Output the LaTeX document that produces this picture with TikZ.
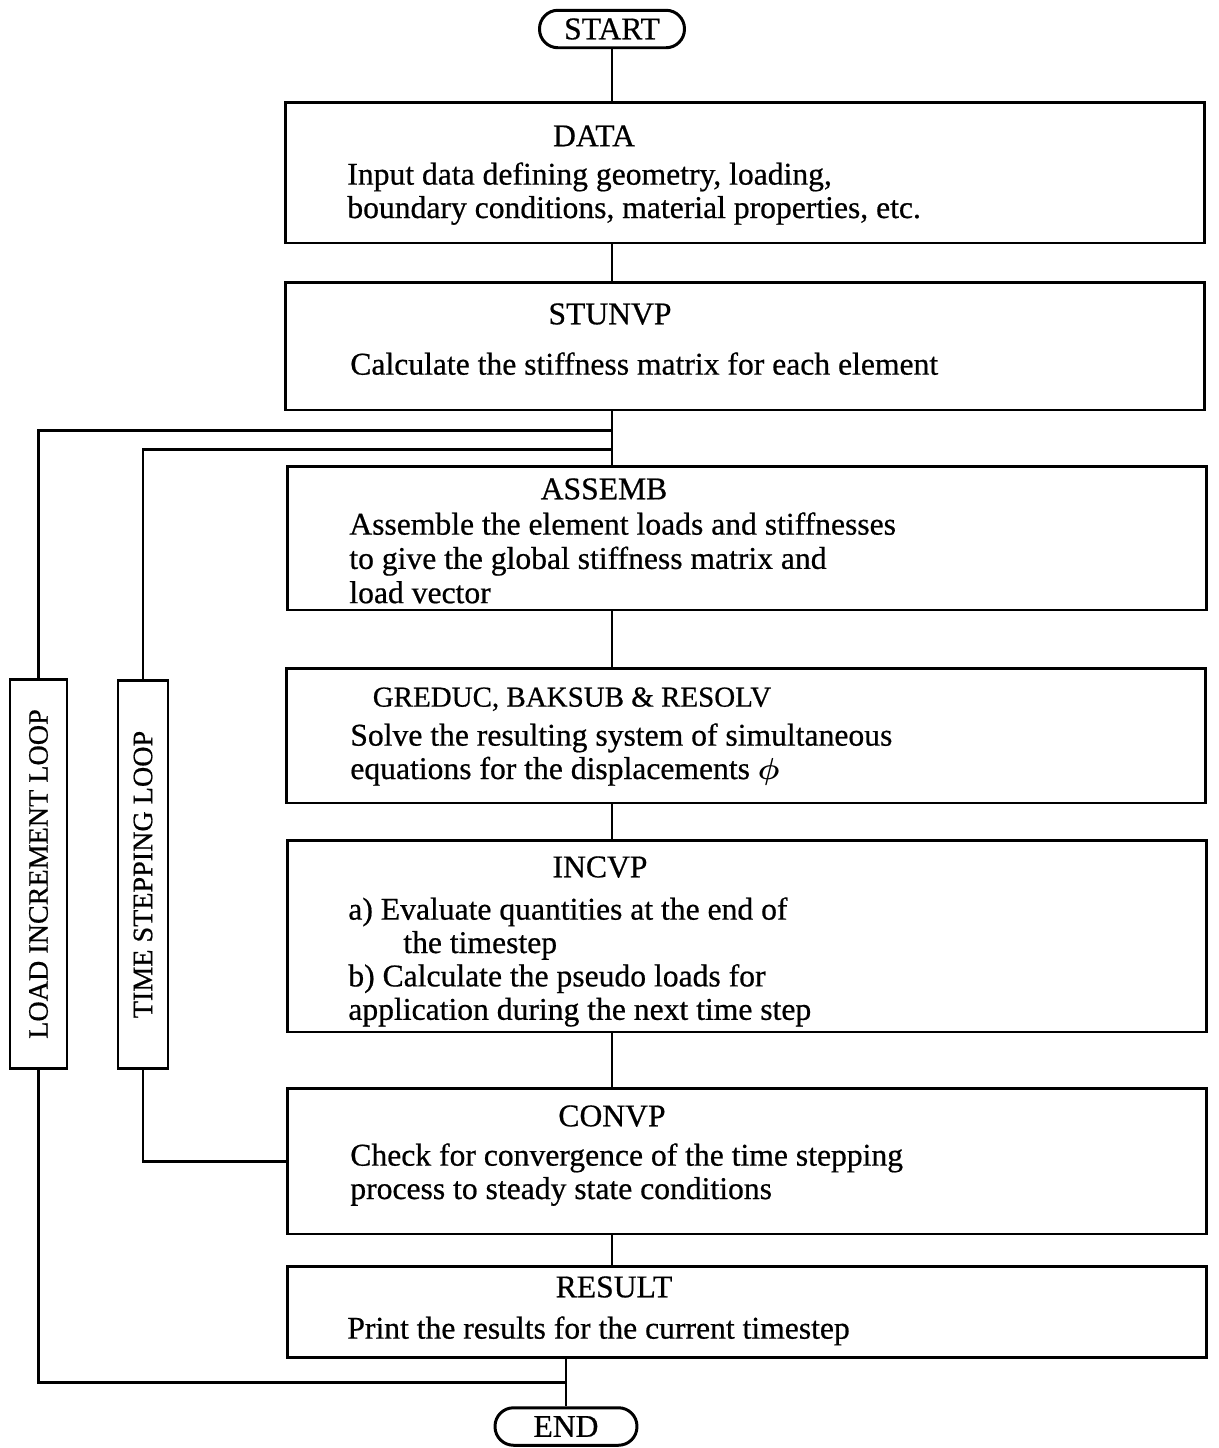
\documentclass[tikz,border=0pt]{standalone}
\usepackage{fontspec}
\setmainfont{Liberation Serif}[FakeBold=0.6]
\usepackage{graphicx}
\usepackage{amsmath, amssymb}
\newcommand{\flowfont}{\fontsize{18}{19}\selectfont}
\newcommand{\loopfont}{\fontsize{16}{18}\selectfont}

\begin{document}
\begin{tikzpicture}[x=0.02cm, y=-0.02cm]
        % ================= 样式定义 =================
        % 方框: 黑边, 粗线, 宽度一致
        \tikzset{
            box/.style={draw=black, line width=1.7pt, inner sep=0pt, minimum width=18.4cm},
            term/.style={draw=black, line width=1.7pt, inner sep=0pt, rounded corners=0.37cm, minimum height=0.75cm, font=\flowfont},
            loopbox/.style={draw=black, line width=1.7pt, inner sep=0pt, minimum height=7.78cm, font=\loopfont},
            title/.style={anchor=north, inner sep=0pt, font=\flowfont},
            body/.style={anchor=north west, inner sep=0pt, align=left, font=\flowfont},
            link/.style={line width=1.7pt}
        }
        \useasboundingbox (0,0) rectangle (1218,1448);

        % ================= 绘图部分 =================

        % START / END
        \node[term, minimum width=2.9cm] (start) at (612,29) {START};
        \node[term, minimum width=2.84cm] (end) at (566,1426.5) {END};

        % DATA
        \node[box, minimum height=2.82cm] (data) at (745,172.5) {};
        \node[title] (datatitle) at (594,125) {DATA};
        \node[body] (datatext) at (347,162) {Input data defining geometry, loading,\\boundary conditions, material properties, etc.};

        % STUNVP
        \node[box, minimum height=2.56cm] (stunvp) at (745,346) {};
        \node[title] (stunvptitle) at (610,303) {STUNVP};
        \node[body] (stunvptext) at (350,352) {Calculate the stiffness matrix for each element};

        % ASSEMB
        \node[box, minimum height=2.88cm] (assemb) at (747,538) {};
        \node[title] (assembtitle) at (604,478) {ASSEMB};
        \node[body] (assembtext) at (349,512) {Assemble the element loads and stiffnesses\\[0.5pt]to give the global stiffness matrix and\\[0.5pt]load vector};

        % GREDUC, BAKSUB & RESOLV
        \node[box, minimum height=2.7cm] (greduc) at (746,735.5) {};
        \node[title, font=\fontsize{16.5}{19}\selectfont] (greductitle) at (572,687) {GREDUC, BAKSUB \& RESOLV};
        \node[body] (greductext) at (350,723) {Solve the resulting system of simultaneous\\equations for the displacements $\boldsymbol{\phi}$};

        % INCVP
        \node[box, minimum height=3.84cm] (incvp) at (747,936) {};
        \node[title] (incvptitle) at (600,856) {INCVP};
        \node[body] (incvptext) at (348,897) {a) Evaluate quantities at the end of\\\hspace*{1.1cm}the timestep\\b) Calculate the pseudo loads for\\application during the next time step};

        % CONVP
        \node[box, minimum height=2.92cm] (convp) at (747,1161) {};
        \node[title] (convptitle) at (612,1105) {CONVP};
        \node[body] (convptext) at (350,1143) {Check for convergence of the time stepping\\process to steady state conditions};

        % RESULT
        \node[box, minimum height=1.82cm] (result) at (747,1311.5) {};
        \node[title] (resulttitle) at (614,1276) {RESULT};
        \node[body] (resulttext) at (347,1316) {Print the results for the current timestep};

        % 循环框 (竖排文字)
        \node[loopbox, minimum width=1.14cm] (loadloop) at (38.5,874) {\rotatebox{90}{LOAD INCREMENT LOOP}};
        \node[loopbox, minimum width=1.0cm] (timeloop) at (143,874.5) {\rotatebox{90}{TIME STEPPING LOOP}};

        % ================= 连线 =================
        \coordinate (ldjoin) at (612,430);
        \coordinate (tsjoin) at (612,449);
        \coordinate (endjoin) at (566,1382);

        \draw[link] (start.south) -- (start.south |- data.north);
        \draw[link] (start.south |- data.south) -- (start.south |- stunvp.north);
        \draw[link] (start.south |- stunvp.south) -- (start.south |- assemb.north);
        \draw[link] (start.south |- assemb.south) -- (start.south |- greduc.north);
        \draw[link] (start.south |- greduc.south) -- (start.south |- incvp.north);
        \draw[link] (start.south |- incvp.south) -- (start.south |- convp.north);
        \draw[link] (start.south |- convp.south) -- (start.south |- result.north);
        \draw[link] (end.north |- result.south) -- (end.north);

        \draw[link] (loadloop.north) |- (ldjoin);
        \draw[link] (timeloop.north) |- (tsjoin);
        \draw[link] (timeloop.south) |- (convp.west);
        \draw[link] (loadloop.south) |- (endjoin);

    \end{tikzpicture}
\end{document}
